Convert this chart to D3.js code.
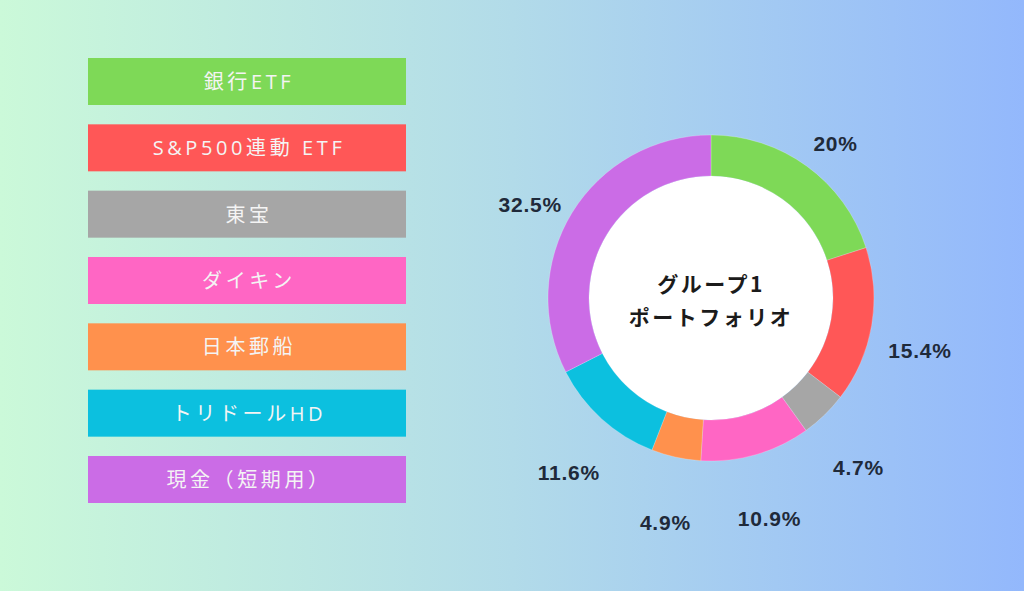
<!DOCTYPE html>
<html><head><meta charset="utf-8">
<script src="https://cdn.jsdelivr.net/npm/d3@7"></script>
<style>html,body{margin:0;padding:0;overflow:hidden;}svg{display:block;}</style>
</head><body>
<svg id="chart" width="1024" height="591"></svg>
<script>
const categories = ["銀行ETF", "S&P500連動 ETF", "東宝", "ダイキン", "日本郵船", "トリドールHD", "現金（短期用）"];
const values = [20, 15.4, 4.7, 10.9, 4.9, 11.6, 32.5];
const valueLabels = ["20%", "15.4%", "4.7%", "10.9%", "4.9%", "11.6%", "32.5%"];
const colors = ["#7ed957", "#ff5757", "#a6a6a6", "#ff66c4", "#ff914d", "#0cc0df", "#cb6ce6"];
const centerTitle = ["グループ1", "ポートフォリオ"];

const W = 1024, H = 591;
const svg = d3.select("#chart");
const defs = svg.append("defs");
const grad = defs.append("linearGradient").attr("id", "bg").attr("x1", "0").attr("x2", "1").attr("y1", "0").attr("y2", "0");
grad.append("stop").attr("offset", "0").attr("stop-color", "#cbf9d9");
grad.append("stop").attr("offset", "0.5").attr("stop-color", "#b2dbe9");
grad.append("stop").attr("offset", "1").attr("stop-color", "#93b8fc");
svg.append("rect").attr("width", W).attr("height", H).attr("fill", "url(#bg)");

// Legend boxes
const y = d3.scaleBand().domain(categories).range([58, 503]).paddingInner(0.2915).paddingOuter(0);
const color = d3.scaleOrdinal().domain(categories).range(colors);
const lg = svg.append("g");
const rows = lg.selectAll("g.row").data(categories).join("g").attr("class", "row");
rows.append("rect").attr("x", 88).attr("width", 318)
  .attr("y", d => y(d)).attr("height", y.bandwidth()).attr("fill", d => color(d));
rows.append("text").attr("x", 249).attr("y", d => y(d) + y.bandwidth() / 2)
  .attr("text-anchor", "middle").attr("dominant-baseline", "central")
  .attr("font-family", "'Open Sans', 'Noto Sans CJK JP', sans-serif")
  .attr("font-size", 20).attr("letter-spacing", "3.6px")
  .attr("fill", "#f4f4f4").text(d => d);

// Donut
const cx = 711, cy = 298, rOuter = 163, rInner = 122;
const pie = d3.pie().sort(null).value(d => d.v);
const data = pie(categories.map((c, i) => ({c, v: values[i], label: valueLabels[i]})));
const arc = d3.arc().innerRadius(rInner).outerRadius(rOuter);
const g = svg.append("g").attr("transform", `translate(${cx},${cy})`);
g.append("circle").attr("r", rInner).attr("fill", "#ffffff");
g.selectAll("path").data(data).join("path")
  .attr("d", arc).attr("fill", d => color(d.data.c))
  .attr("stroke", "rgba(255,255,255,0.35)").attr("stroke-width", 0.6);

const labelR = 212;
g.selectAll("text.val").data(data).join("text").attr("class", "val")
  .attr("x", d => labelR * Math.sin((d.startAngle + d.endAngle) / 2))
  .attr("y", d => -labelR * Math.cos((d.startAngle + d.endAngle) / 2) + 17)
  .attr("text-anchor", "middle").attr("dominant-baseline", "central")
  .attr("font-family", "'Liberation Sans', Arial, sans-serif").attr("font-weight", "bold")
  .attr("font-size", 21).attr("letter-spacing", "0.8px").attr("fill", "#1f2a3a")
  .text(d => d.data.label);

g.selectAll("text.center").data(centerTitle).join("text").attr("class", "center")
  .attr("x", 0).attr("y", (d, i) => -15 + i * 33)
  .attr("text-anchor", "middle").attr("dominant-baseline", "central")
  .attr("font-family", "'Noto Sans CJK JP', sans-serif").attr("font-weight", "bold")
  .attr("font-size", 21).attr("letter-spacing", "2.5px").attr("fill", "#1b1b1b")
  .text(d => d);
</script>
</body></html>
